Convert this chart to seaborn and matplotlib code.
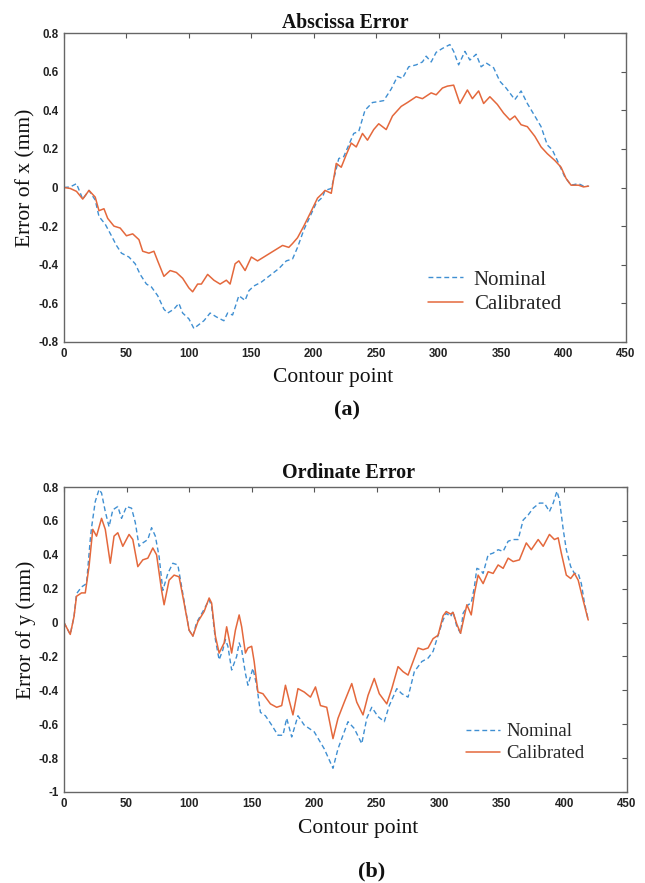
import matplotlib
matplotlib.use("Agg")
import matplotlib.pyplot as plt
import seaborn as sns
import pandas as pd
from matplotlib.ticker import FuncFormatter

# ---------------- data ----------------
ax_nom_x = [0, 5, 10, 15, 20, 25, 28, 33, 38, 42, 46, 52, 57, 61, 66, 70, 75, 80, 83, 88, 92, 95, 100, 104, 108,
            112, 117, 122, 128, 131, 135, 140, 145, 148, 152, 158, 165, 172, 178, 183, 187, 192, 197, 202, 207, 209,
            214, 217, 220, 224, 228, 232, 236, 241, 247, 252, 256, 262, 267, 271, 276, 282, 287, 290, 294, 298, 303,
            309, 312, 316, 321, 325, 330, 334, 338, 344, 349, 354, 361, 366, 371, 377, 382, 387, 391, 395, 401, 406,
            412, 416, 420]
ax_nom_y = [0, 0.003, 0.02, -0.06, -0.015, -0.065, -0.15, -0.19, -0.25, -0.30, -0.34, -0.36, -0.395, -0.45, -0.5,
            -0.515, -0.56, -0.63, -0.65, -0.63, -0.60, -0.65, -0.68, -0.73, -0.71, -0.69, -0.65, -0.67, -0.69, -0.65,
            -0.66, -0.56, -0.585, -0.535, -0.51, -0.49, -0.455, -0.42, -0.38, -0.37, -0.31, -0.22, -0.15, -0.08,
            -0.05, -0.015, -0.005, 0.07, 0.15, 0.16, 0.22, 0.28, 0.29, 0.40, 0.44, 0.445, 0.45, 0.51, 0.575, 0.565,
            0.625, 0.635, 0.65, 0.68, 0.65, 0.70, 0.72, 0.74, 0.705, 0.635, 0.705, 0.66, 0.69, 0.625, 0.645, 0.62,
            0.55, 0.515, 0.455, 0.50, 0.435, 0.37, 0.315, 0.22, 0.195, 0.14, 0.055, 0.012, 0.02, 0.007, 0.007]

ax_cal_x = [0, 5, 10, 15, 20, 25, 28, 32, 35, 40, 45, 50, 55, 60, 63, 68, 72, 75, 80, 85, 90, 95, 100, 103, 107,
            110, 115, 120, 125, 130, 133, 137, 140, 145, 150, 155, 160, 165, 170, 175, 180, 183, 187, 192, 197, 203,
            207, 209, 214, 218, 222, 226, 230, 234, 239, 243, 248, 252, 258, 263, 270, 275, 282, 287, 294, 298, 303,
            307, 312, 317, 323, 327, 332, 336, 341, 347, 352, 357, 361, 366, 371, 377, 382, 387, 393, 398, 402, 406,
            412, 416, 420]
ax_cal_y = [0, -0.005, -0.02, -0.06, -0.015, -0.05, -0.12, -0.11, -0.16, -0.2, -0.21, -0.25, -0.24, -0.27, -0.33,
            -0.34, -0.33, -0.38, -0.46, -0.43, -0.44, -0.47, -0.52, -0.54, -0.5, -0.5, -0.45, -0.48, -0.5, -0.48,
            -0.5, -0.395, -0.38, -0.43, -0.36, -0.38, -0.36, -0.34, -0.32, -0.30, -0.31, -0.29, -0.26, -0.20, -0.135,
            -0.055, -0.03, -0.015, -0.03, 0.125, 0.105, 0.17, 0.23, 0.21, 0.28, 0.245, 0.30, 0.33, 0.30, 0.37, 0.42,
            0.44, 0.47, 0.46, 0.49, 0.48, 0.515, 0.525, 0.53, 0.435, 0.505, 0.46, 0.50, 0.435, 0.47, 0.43, 0.385,
            0.35, 0.37, 0.325, 0.315, 0.265, 0.21, 0.175, 0.14, 0.105, 0.047, 0.012, 0.012, 0.003, 0.007]

or_nom_x = [0, 5, 8, 10, 14, 18, 21, 22, 25, 28, 30, 33, 36, 39, 43, 46, 50, 54, 57, 60, 63, 67, 70, 73, 76, 79,
            83, 87, 91, 95, 100, 103, 106, 111, 116, 118, 121, 124, 127, 129, 131, 134, 138, 140, 142, 145, 147, 151,
            154, 157, 161, 166, 171, 175, 178, 182, 187, 192, 200, 208, 215, 219, 227, 232, 238, 242, 246, 251, 256,
            260, 266, 270, 275, 280, 286, 291, 295, 299, 303, 305.5, 309, 311, 314, 317, 319, 323, 325.5, 328, 330,
            333, 335, 339, 343, 347, 351, 355, 359, 363, 367, 371, 375, 380, 384, 388, 391, 394, 396, 399, 401.5,
            405, 408, 411, 413.5, 416, 419]
or_nom_y = [0, -0.07, 0.035, 0.17, 0.21, 0.23, 0.49, 0.56, 0.715, 0.785, 0.765, 0.655, 0.565, 0.665, 0.685, 0.615,
            0.685, 0.675, 0.59, 0.45, 0.47, 0.49, 0.56, 0.51, 0.39, 0.19, 0.29, 0.35, 0.34, 0.17, -0.045, -0.08, 0,
            0.065, 0.135, 0.095, -0.1, -0.22, -0.16, -0.1, -0.14, -0.28, -0.2, -0.12, -0.16, -0.3, -0.37, -0.27,
            -0.37, -0.53, -0.55, -0.605, -0.665, -0.665, -0.565, -0.675, -0.55, -0.605, -0.645, -0.745, -0.86,
            -0.745, -0.585, -0.625, -0.715, -0.565, -0.50, -0.555, -0.585, -0.49, -0.39, -0.42, -0.44, -0.29, -0.23,
            -0.21, -0.17, -0.075, 0.015, 0.055, 0.035, 0.065, -0.025, -0.063, 0.055, 0.105, 0.115, 0.21, 0.32, 0.31,
            0.29, 0.40, 0.41, 0.43, 0.42, 0.48, 0.49, 0.49, 0.605, 0.635, 0.675, 0.705, 0.705, 0.655, 0.705, 0.775,
            0.725, 0.55, 0.43, 0.33, 0.29, 0.29, 0.23, 0.115, 0.015]

or_cal_x = [0, 5, 8, 10, 14, 17, 20, 23, 26, 30, 33, 37, 40, 43, 47, 52, 55, 59, 63, 67, 71, 74, 78, 80, 84, 88, 92,
            96, 100, 103, 107, 112, 116, 118, 121, 124, 128, 130, 132, 134, 137, 140, 142, 145, 147, 150, 152, 155,
            159, 165, 170, 174, 177, 180, 183, 187, 192, 197, 201, 205, 210, 215, 219, 224, 230, 234, 239, 243, 248,
            252, 258, 262, 267, 271, 275, 279, 283, 287, 291, 295, 299, 303, 305.5, 309, 311, 314, 317, 319, 322,
            325.5, 328, 331, 335, 339, 343, 347, 351, 355, 359, 364, 369.5, 373.5, 379, 383, 388, 392, 395, 397.5,
            401.5, 405, 408, 411, 415, 419]
or_cal_y = [0, -0.07, 0.035, 0.155, 0.175, 0.175, 0.33, 0.55, 0.51, 0.615, 0.55, 0.35, 0.51, 0.53, 0.45, 0.52, 0.49,
            0.33, 0.37, 0.38, 0.44, 0.40, 0.19, 0.105, 0.25, 0.28, 0.27, 0.115, -0.045, -0.08, 0.005, 0.065, 0.145,
            0.115, -0.08, -0.18, -0.12, -0.025, -0.1, -0.18, -0.045, 0.045, -0.025, -0.18, -0.15, -0.14, -0.23,
            -0.41, -0.42, -0.48, -0.50, -0.49, -0.37, -0.46, -0.545, -0.39, -0.41, -0.44, -0.38, -0.49, -0.50,
            -0.685, -0.565, -0.47, -0.36, -0.47, -0.545, -0.43, -0.33, -0.42, -0.48, -0.39, -0.26, -0.29, -0.31,
            -0.23, -0.15, -0.16, -0.15, -0.095, -0.075, 0.04, 0.065, 0.05, 0.06, -0.01, -0.063, 0.005, 0.105, 0.045,
            0.17, 0.28, 0.23, 0.30, 0.29, 0.34, 0.32, 0.38, 0.36, 0.37, 0.47, 0.43, 0.49, 0.45, 0.52, 0.49, 0.50,
            0.41, 0.28, 0.26, 0.29, 0.25, 0.13, 0.015]

series_names = ["Nominal", "Calibrated"]
titles = ["Abscissa Error", "Ordinate Error"]
ylabels = ["Error of x (mm)", "Error of y (mm)"]
xlabel = "Contour point"
panel_tags = ["(a)", "(b)"]
xticks = [0, 50, 100, 150, 200, 250, 300, 350, 400, 450]
yticks_a = [-0.8, -0.6, -0.4, -0.2, 0, 0.2, 0.4, 0.6, 0.8]
yticks_b = [-1, -0.8, -0.6, -0.4, -0.2, 0, 0.2, 0.4, 0.6, 0.8]

# ---------------- style ----------------
sns.set_style("white")
plt.rcParams["axes.unicode_minus"] = False
plt.rcParams["font.family"] = ["DejaVu Sans"]
SERIF = ["Liberation Serif", "DejaVu Serif"]
SANS = ["Liberation Sans", "DejaVu Sans"]
BLUE = "#3f8fd2"
ORANGE = "#e4683c"

W, H = 645, 883
fig = plt.figure(figsize=(W / 100, H / 100), dpi=100)


def frac(l, t, r, b):
    return [l / W, 1 - b / H, (r - l) / W, (b - t) / H]


ax1 = fig.add_axes(frac(64, 33, 626, 342))
ax2 = fig.add_axes(frac(64, 487, 627, 792))

panels = [
    (ax1, ax_nom_x, ax_nom_y, ax_cal_x, ax_cal_y, yticks_a, (-0.8, 0.8)),
    (ax2, or_nom_x, or_nom_y, or_cal_x, or_cal_y, yticks_b, (-1, 0.8)),
]

fmt = FuncFormatter(lambda v, p: f"{v:g}")

for i, (ax, nx, ny, cx, cy, yt, ylim) in enumerate(panels):
    df_n = pd.DataFrame({"x": nx, "y": ny})
    df_c = pd.DataFrame({"x": cx, "y": cy})
    sns.lineplot(data=df_n, x="x", y="y", ax=ax, color=BLUE, lw=1.0, label=series_names[0],
                 estimator=None, sort=False)
    ax.lines[-1].set_dashes((3.5, 2.2))
    sns.lineplot(data=df_c, x="x", y="y", ax=ax, color=ORANGE, lw=1.1, label=series_names[1],
                 estimator=None, sort=False)
    ax.set_xlim(0, 450)
    ax.set_ylim(*ylim)
    ax.set_xticks(xticks)
    ax.set_yticks(yt)
    ax.xaxis.set_major_formatter(fmt)
    ax.yaxis.set_major_formatter(fmt)
    ax.tick_params(direction="in", length=3.5, width=0.8, color="#555555", top=True, right=True,
                   labeltop=False, labelright=False, pad=4)
    for lab in ax.get_xticklabels() + ax.get_yticklabels():
        lab.set_fontfamily(SANS)
        lab.set_fontweight("bold")
        lab.set_fontsize(8.3)
        lab.set_color("#222222")
    for s in ax.spines.values():
        s.set_color("#666666")
        s.set_linewidth(1.0)
    ax.set_ylabel(ylabels[i], fontfamily=SERIF, fontsize=15.5, color="#111111")
    ax.set_xlabel(xlabel, fontfamily=SERIF, fontsize=15.5, color="#111111")
    ax.yaxis.set_label_coords(-0.05, 0.531)

ax1.xaxis.set_label_coords((333 - 64) / 562, -0.085)
ax2.xaxis.set_label_coords((358 - 64) / 563, -0.088)

leg1 = ax1.legend(loc="upper left", bbox_to_anchor=((428 - 64) / 562, (342 - 270) / 309),
                  frameon=False, prop={"family": SERIF, "size": 15}, handlelength=1.7,
                  handletextpad=0.5, labelspacing=0.25, borderpad=0, borderaxespad=0)
leg2 = ax2.legend(loc="upper left", bbox_to_anchor=((466 - 64) / 563, (792 - 723) / 305),
                  frameon=False, prop={"family": SERIF, "size": 13.5}, handlelength=1.8,
                  handletextpad=0.35, labelspacing=0.27, borderpad=0, borderaxespad=0)

fig.text(345 / W, 1 - 28 / H, titles[0], ha="center", va="baseline", fontfamily=SERIF,
         fontweight="bold", fontsize=14.2, color="#111111")
fig.text(348 / W, 1 - 478 / H, titles[1], ha="center", va="baseline", fontfamily=SERIF,
         fontweight="bold", fontsize=14.5, color="#111111")
fig.text(347 / W, 1 - 410 / H, panel_tags[0], ha="center", va="center", fontfamily=SERIF,
         fontweight="bold", fontsize=16, color="#111111")
fig.text(372 / W, 1 - 871 / H, panel_tags[1], ha="center", va="center", fontfamily=SERIF,
         fontweight="bold", fontsize=16, color="#111111")

fig.savefig("out.png", dpi=100, facecolor="white")
